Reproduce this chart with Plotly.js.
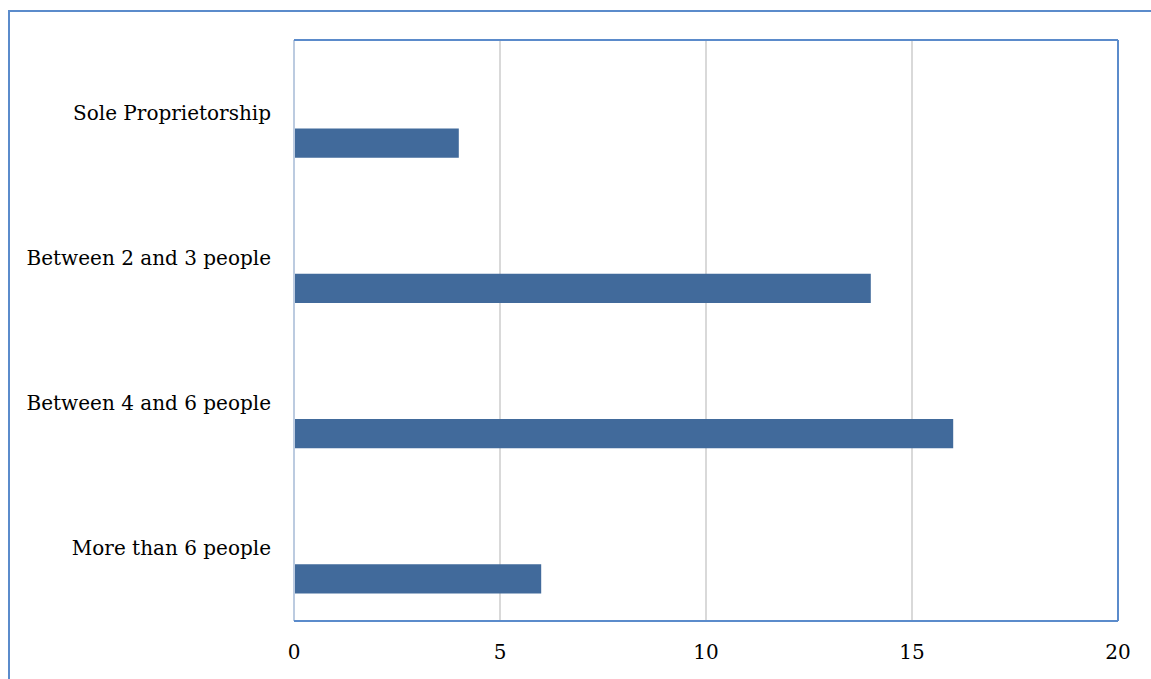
<!DOCTYPE html>
<html>
<head>
<meta charset="utf-8">
<script src="https://cdn.plot.ly/plotly-3.0.1.min.js"></script>
<style>
html,body{margin:0;padding:0;overflow:hidden;background:#fff;}
#chart{width:1151px;height:679px;}
#frame{position:absolute;left:8px;top:10px;width:3000px;height:3000px;border-left:2px solid #5b8bcb;border-top:2px solid #5b8bcb;pointer-events:none;}
</style>
</head>
<body>
<div id="chart"></div>
<div id="frame"></div>
<script>
const categories = ["Sole Proprietorship", "Between 2 and 3 people", "Between 4 and 6 people", "More than 6 people"];
const values = [4, 14, 16, 6];
const xTicks = [0, 5, 10, 15, 20];

const font = {family: "DejaVu Serif, Liberation Serif, serif", size: 20, color: "#000"};

const trace = {
  type: "bar",
  orientation: "h",
  y: categories,
  x: values,
  width: 0.2,
  offset: 0.11,
  marker: {color: "#416a9b"},
  hoverinfo: "x+y"
};

const layout = {
  width: 1151, height: 679,
  margin: {l: 294, r: 33, t: 40, b: 58, pad: 0},
  paper_bgcolor: "#fff", plot_bgcolor: "#fff",
  showlegend: false,
  font: font,
  xaxis: {
    range: [0, 20], tickvals: xTicks, ticktext: xTicks.map(String),
    showgrid: true, gridcolor: "#d9d9d9", gridwidth: 1.5,
    zeroline: false, showline: false, ticks: "", ticklen: 0,
    tickfont: font, ticklabelstandoff: 17, fixedrange: true
  },
  yaxis: {
    type: "category", categoryorder: "array", categoryarray: categories,
    autorange: "reversed",
    showgrid: false, zeroline: false, showline: false, ticks: "",
    tickfont: font, ticklabelstandoff: 22, fixedrange: true
  },
  shapes: [
    {type: "line", xref: "paper", yref: "paper", x0: 0, x1: 0, y0: 0, y1: 1, line: {color: "#bccbe0", width: 2}},
    {type: "line", xref: "paper", yref: "paper", x0: 0, x1: 1, y0: 1, y1: 1, line: {color: "#5b8bcb", width: 2}},
    {type: "line", xref: "paper", yref: "paper", x0: 1, x1: 1, y0: 0, y1: 1, line: {color: "#5b8bcb", width: 2}},
    {type: "line", xref: "paper", yref: "paper", x0: 0, x1: 1, y0: 0, y1: 0, line: {color: "#5b8bcb", width: 2}}
  ]
};

Plotly.newPlot("chart", [trace], layout, {displayModeBar: false, staticPlot: true});
</script>
</body>
</html>
